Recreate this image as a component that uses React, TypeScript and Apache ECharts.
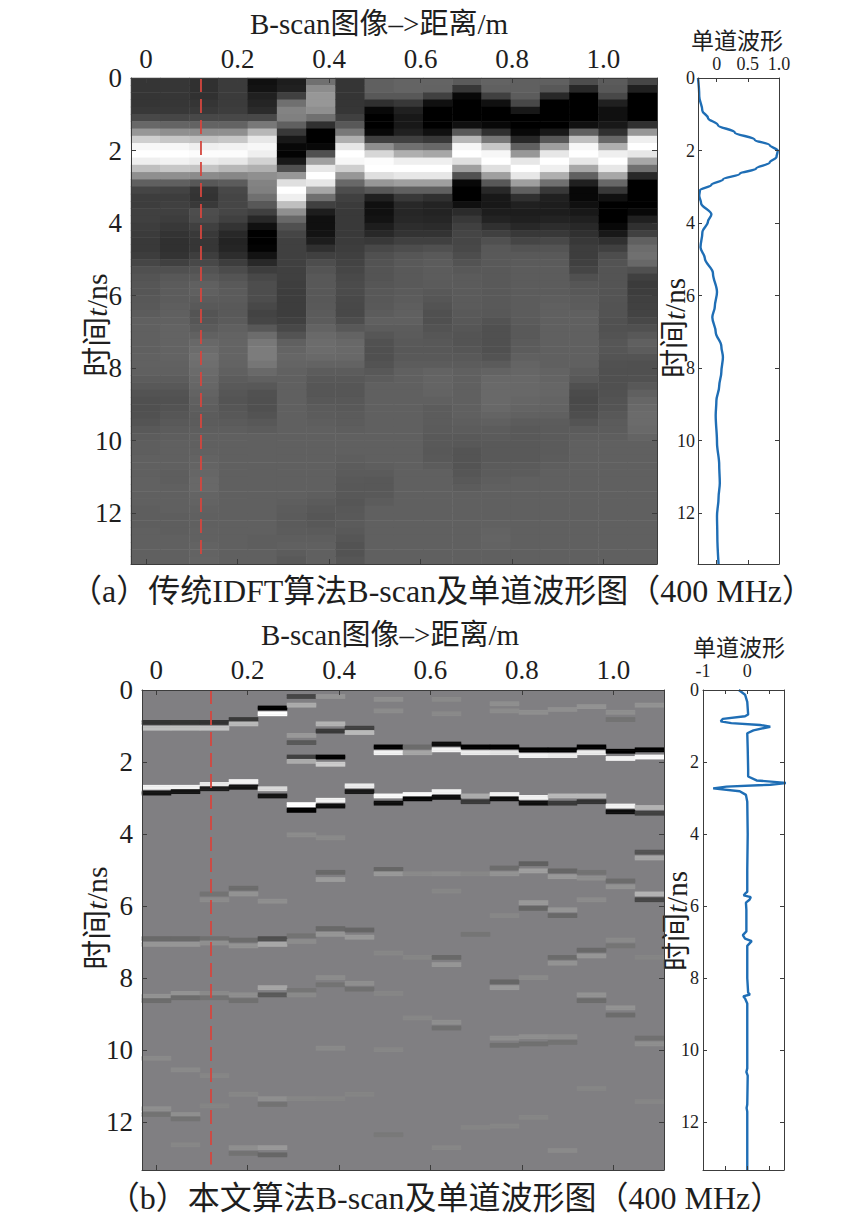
import React, { useEffect, useRef } from "react";
import * as echarts from "echarts";

const W = 857;
const H = 1232;

const SERIF = '"Liberation Serif", "Noto Sans CJK SC", serif';
const TEXT = "#1e1e1e";
const FRAME = "#3c3c3c";
const RED = "#d4473f";
const BLUE = "#1f6eb5";

// ---------- Panel (a): conventional IDFT B-scan, 18 traces x 67 bins of 0.2 ns ----------
const binA = 0.2;
const tMaxA = 13.4;
const colsA: number[][] = [
  [-0.27,-0.27,-0.27,-0.27,-0.25,-0.15,0.05,0.35,0.7,0.95, 1.0,0.9,0.6,0.3,0.0,-0.17,-0.22,-0.22,-0.2,-0.2, -0.22,-0.23,-0.24,-0.24,-0.22,-0.16,-0.1,-0.07,-0.06,-0.06, -0.05,-0.04,-0.02,0,0,0,0,0,0.01,0.01, 0,-0.02,-0.05,-0.08,-0.1,-0.1,-0.09,-0.07,-0.04,-0.02, -0.01,-0.01,0,0,0,0.01,0.01,0,0,-0.01, -0.01,-0.01,0,0,0,0,0],
  [-0.26,-0.26,-0.26,-0.26,-0.25,-0.16,0.03,0.3,0.65,0.95, 1.0,0.92,0.65,0.3,0.0,-0.18,-0.22,-0.2,-0.2,-0.22, -0.25,-0.28,-0.3,-0.3,-0.28,-0.2,-0.1,-0.05,-0.03,-0.02, -0.02,-0.01,0,0.01,0.02,0.02,0.02,0.02,0.02,0.01, 0,-0.02,-0.05,-0.08,-0.09,-0.08,-0.06,-0.04,-0.02,-0.01, 0,0,0,0,-0.01,-0.01,0,0,0,0, -0.01,-0.01,-0.01,0,0,0,0],
  [-0.3,-0.3,-0.29,-0.27,-0.24,-0.15,0.02,0.29,0.61,0.9, 0.98,0.88,0.63,0.27,-0.05,-0.27,-0.28,-0.24,-0.12,-0.13, -0.2,-0.24,-0.26,-0.26,-0.21,-0.15,-0.08,-0.04,0,0.0, -0.02,-0.04,-0.07,-0.06,-0.03,0.01,0.05,0.08,0.1,0.09, 0.07,0.05,0.04,0.02,0,-0.01,-0.02,-0.02,-0.01,0, 0,0.01,0.02,0.03,0.04,0.05,0.05,0.03,0.02,0.01, 0,0,0.01,0.01,0.02,0.02,0.03],
  [-0.23,-0.23,-0.23,-0.23,-0.22,-0.15,0.02,0.3,0.65,0.92, 0.98,0.85,0.55,0.25,-0.02,-0.15,-0.17,-0.16,-0.16,-0.2, -0.28,-0.35,-0.38,-0.37,-0.32,-0.22,-0.13,-0.07,-0.04,-0.03, -0.03,-0.04,-0.04,-0.03,0,0.02,0.03,0.03,0.03,0.02, 0,-0.02,-0.04,-0.06,-0.07,-0.06,-0.05,-0.03,-0.01,0, 0,0,0,0,0,0,0,0,0,0, 0,0,0,0,0,0,0],
  [-0.5,-0.48,-0.4,-0.37,-0.33,-0.15,0.15,0.55,0.85,0.95, 0.9,0.72,0.5,0.3,0.22,0.2,0.1,-0.05,-0.2,-0.35, -0.5,-0.6,-0.62,-0.58,-0.48,-0.35,-0.22,-0.15,-0.12,-0.12, -0.12,-0.15,-0.18,-0.16,-0.05,0.08,0.15,0.18,0.18,0.14, 0.06,0,-0.05,-0.09,-0.1,-0.1,-0.08,-0.05,-0.02,0, 0,0,0,0,0,0,0,0,0,0, 0,0,0,-0.01,-0.01,0,0],
  [-0.42,-0.4,-0.2,0.1,0.22,0.2,0.0,-0.25,-0.45,-0.55, -0.58,-0.45,-0.1,0.35,0.8,1.0,0.9,0.6,0.3,0.05, -0.1,-0.17,-0.2,-0.2,-0.2,-0.2,-0.2,-0.2,-0.21,-0.22, -0.22,-0.22,-0.22,-0.2,-0.15,-0.08,0,0.03,0.04,0.03, 0.01,0,0,0,0,0,0,0,0,0, 0,0,0,0,0,0,0,0,-0.01,-0.02, -0.03,-0.03,-0.02,-0.01,0,-0.02,-0.04],
  [0.1,0.28,0.35,0.35,0.3,0.1,-0.3,-0.6,-0.7,-0.55, -0.1,0.4,0.85,1.0,0.85,0.45,0.1,-0.2,-0.42,-0.5, -0.5,-0.48,-0.42,-0.3,-0.2,-0.12,-0.07,-0.05,-0.05,-0.05, -0.05,-0.04,-0.03,-0.02,0.02,0.06,0.08,0.08,0.06,0.02, -0.02,-0.05,-0.06,-0.06,-0.05,-0.03,-0.02,-0.01,0,0, 0,0,0,0,0,0,0,-0.01,-0.03,-0.05, -0.06,-0.05,-0.03,-0.01,0,0,0],
  [-0.27,-0.27,-0.27,-0.27,-0.26,-0.2,-0.05,0.15,0.5,0.85, 1.0,0.95,0.7,0.35,0.05,-0.12,-0.2,-0.23,-0.24,-0.24, -0.24,-0.24,-0.23,-0.22,-0.2,-0.18,-0.16,-0.14,-0.13,-0.13, -0.14,-0.15,-0.15,-0.12,-0.05,0.02,0.05,0.06,0.05,0.02, -0.02,-0.05,-0.06,-0.06,-0.05,-0.04,-0.03,-0.02,-0.01,0, 0,0,-0.01,-0.02,-0.03,-0.04,-0.05,-0.05,-0.06,-0.05, -0.04,-0.03,-0.04,-0.06,-0.08,-0.08,-0.06],
  [0.0,0.0,-0.05,-0.3,-0.55,-0.65,-0.65,-0.55,-0.2,0.3, 0.75,0.98,1.0,0.8,0.35,-0.05,-0.4,-0.5,-0.5,-0.48, -0.42,-0.35,-0.25,-0.15,-0.1,-0.08,-0.07,-0.07,-0.06,-0.05, -0.05,-0.04,-0.02,0,-0.02,-0.06,-0.09,-0.1,-0.1,-0.08, -0.05,-0.02,0,0,0,0,0,0,0,0, 0,0,0,-0.01,-0.03,-0.05,-0.05,-0.04,-0.02,0, 0,0,0,0,0,0,0],
  [0.03,0.03,-0.05,-0.25,-0.4,-0.45,-0.45,-0.4,-0.2,0.1, 0.5,0.9,1.0,0.85,0.4,0.0,-0.25,-0.35,-0.36,-0.35, -0.32,-0.28,-0.2,-0.12,-0.06,-0.04,-0.04,-0.04,-0.04,-0.03, -0.02,-0.01,0,0,-0.02,-0.03,-0.04,-0.05,-0.04,-0.02, 0,0,0,0,0,0,0,0,0,0, 0,0,0,0,0,0,0,0,0,0, 0,0,0,0,0,0,0],
  [0.03,0.02,-0.2,-0.5,-0.6,-0.62,-0.6,-0.5,-0.25,0.05, 0.45,0.9,1.0,0.85,0.4,0.0,-0.3,-0.38,-0.38,-0.36, -0.33,-0.28,-0.2,-0.1,-0.04,-0.02,-0.02,-0.02,-0.03,-0.05, -0.06,-0.08,-0.1,-0.1,-0.08,-0.06,-0.05,-0.05,-0.04,-0.02, 0.02,0.03,0.03,0.02,0,-0.02,-0.02,-0.02,-0.03,-0.04, -0.04,-0.05,-0.04,-0.02,0,0,0,0,0,0, 0,0,0,0,0,0,0],
  [-0.03,-0.25,-0.55,-0.7,-0.72,-0.7,-0.5,-0.05,0.55,0.95, 1.0,0.8,0.4,-0.1,-0.55,-0.68,-0.65,-0.5,-0.33,-0.25, -0.2,-0.17,-0.16,-0.15,-0.12,-0.08,-0.05,-0.03,-0.03,-0.03, -0.03,-0.03,-0.04,-0.05,-0.06,-0.07,-0.07,-0.06,-0.04,-0.02, 0,0,0,0,0,0,0,-0.01,-0.02,-0.04, -0.05,-0.07,-0.07,-0.07,-0.06,-0.04,-0.02,0,0,0, 0,0,0,0,0,0,0],
  [0.02,0.0,-0.2,-0.5,-0.62,-0.62,-0.55,-0.3,0.15,0.65, 0.95,1.0,0.8,0.4,-0.05,-0.35,-0.45,-0.45,-0.42,-0.38, -0.3,-0.2,-0.1,-0.05,-0.04,-0.04,-0.04,-0.04,-0.04,-0.04, -0.04,-0.04,-0.05,-0.08,-0.1,-0.1,-0.1,-0.1,-0.08,-0.03, 0.02,0.05,0.06,0.06,0.06,0.05,0.03,0,-0.02,-0.03, -0.04,-0.04,-0.04,-0.03,-0.02,-0.01,0,0,0,0, 0,0.01,0.02,0.03,0.02,0,0],
  [0.0,0.0,-0.02,-0.15,-0.45,-0.6,-0.62,-0.55,-0.35,0.0, 0.35,0.85,1.0,0.85,0.4,0.0,-0.3,-0.4,-0.42,-0.4, -0.35,-0.25,-0.17,-0.08,-0.04,-0.03,-0.02,-0.02,-0.02,-0.02, -0.02,-0.02,-0.02,-0.03,-0.04,-0.04,-0.03,-0.02,0,0.03, 0.04,0.05,0.05,0.05,0.04,0.03,0.01,-0.02,-0.04,-0.04, -0.04,-0.04,-0.04,-0.03,-0.02,0,0,0,0,0, 0,0,0,0,0,0,0],
  [0.0,-0.05,-0.35,-0.6,-0.65,-0.65,-0.6,-0.45,-0.05,0.4, 0.85,1.0,0.9,0.5,0.1,-0.25,-0.4,-0.42,-0.42,-0.38, -0.32,-0.25,-0.15,-0.07,-0.04,-0.03,-0.02,-0.02,-0.02,-0.02, -0.01,0,0,0,0,0,0,0,0,0, 0.02,0.03,0.04,0.04,0.03,0.02,0,-0.02,-0.03,-0.03, -0.03,-0.03,-0.02,-0.01,0,0,0,0,0,0, 0,0,0,0,0,0,0],
  [-0.12,-0.35,-0.6,-0.7,-0.72,-0.7,-0.5,0.0,0.6,0.95, 1.0,0.85,0.45,0.0,-0.4,-0.55,-0.55,-0.5,-0.45,-0.4, -0.35,-0.3,-0.25,-0.22,-0.22,-0.2,-0.17,-0.1,-0.06,-0.05, -0.03,-0.02,0,0,0,0,0,0,0,0, -0.02,-0.05,-0.1,-0.13,-0.14,-0.13,-0.11,-0.07,-0.03,-0.01, 0,0,0,0,0,0,0,0,0,0, 0,0,0,0,0,0,0],
  [-0.03,-0.05,-0.15,-0.4,-0.5,-0.5,-0.45,-0.3,0.05,0.5, 0.9,1.0,0.85,0.45,0.05,-0.25,-0.5,-0.6,-0.62,-0.6, -0.55,-0.45,-0.3,-0.2,-0.12,-0.08,-0.07,-0.07,-0.07,-0.07, -0.07,-0.08,-0.08,-0.09,-0.09,-0.08,-0.06,-0.06,-0.07,-0.09, -0.1,-0.1,-0.1,-0.09,-0.08,-0.07,-0.05,-0.03,-0.02,-0.01, 0,0,0,0,0,0,0,0,0,0, 0,0,0,0,0,0,0],
  [-0.16,-0.4,-0.65,-0.72,-0.72,-0.65,-0.3,0.35,0.9,1.0, 0.85,0.45,0.1,-0.35,-0.65,-0.72,-0.7,-0.62,-0.55,-0.4, -0.3,-0.2,0.0,0.08,0.1,0.05,-0.1,-0.2,-0.23,-0.22, -0.2,-0.19,-0.18,-0.15,-0.1,-0.05,0,-0.02,-0.07,-0.1, -0.1,-0.09,-0.05,0,0.04,0.06,0.07,0.07,0.06,0.03, 0,0,0,0,0,0,0,0,0,0, 0,0,0,0,0,0,0],
];

// single trace under the red line, panel (a)
const traceA_t = [0, 0.5, 0.9, 1.1, 1.3, 1.5, 1.7, 1.85, 2.0, 2.18, 2.33, 2.5, 2.64, 2.8, 2.94, 3.1, 3.25, 3.45, 3.76, 3.96, 4.26, 4.67, 4.97, 5.38, 5.9, 6.3, 6.6, 7.0, 7.4, 7.7, 8.1, 8.5, 8.9, 9.3, 10.05, 10.66, 11.17, 11.57, 12.08, 12.6, 13.4];
const traceA_v = [-0.3, -0.28, -0.23, -0.14, 0.02, 0.29, 0.61, 0.85, 0.98, 0.96, 0.85, 0.63, 0.37, 0.1, -0.085, -0.27, -0.28, -0.25, -0.085, -0.14, -0.23, -0.26, -0.19, -0.06, 0.005, -0.03, -0.07, -0.016, 0.075, 0.1, 0.075, 0.04, -0.005, -0.016, 0.005, 0.04, 0.05, 0.03, 0.005, 0.01, 0.03];

// ---------- Panel (b): proposed algorithm, sparse reflections [trace, time ns, amplitude] ----------
const binB = 0.04;
const tMaxB = 13.32;
const eventsB: [number, number, number][] = [
  [0,0.88,-0.6],[0,1.04,0.5],[0,2.68,0.9],[0,2.83,-0.85],[0,6.87,-0.18],[0,7.04,0.18],[0,8.46,0.15],[0,8.62,-0.15],[0,10.2,0.08],[0,11.58,0.12],[0,11.77,-0.1],
  [1,0.88,-0.6],[1,1.04,0.5],[1,2.66,0.9],[1,2.81,-0.85],[1,6.87,-0.18],[1,7.04,0.18],[1,8.38,0.15],[1,8.53,-0.15],[1,10.5,0.08],[1,11.74,0.12],[1,11.88,-0.1],[1,12.6,0.06],
  [2,0.88,-0.6],[2,1.02,0.52],[2,2.58,0.83],[2,2.73,-0.78],[2,5.65,-0.1],[2,5.79,0.1],[2,6.86,-0.12],[2,7.0,0.12],[2,8.4,0.08],[2,8.53,-0.1],[2,10.67,0.05],[2,11.5,0.04],
  [3,0.79,-0.55],[3,0.93,0.45],[3,2.5,0.9],[3,2.69,-0.85],[3,5.46,-0.15],[3,5.62,0.15],[3,6.9,-0.15],[3,7.07,0.15],[3,8.42,0.12],[3,8.58,-0.12],[3,11.2,0.06],[3,12.67,0.12],[3,12.84,-0.1],
  [4,0.46,-1],[4,0.65,1],[4,2.73,0.7],[4,2.9,-0.85],[4,5.83,0.12],[4,6.86,-0.38],[4,7.04,0.32],[4,8.23,0.3],[4,8.42,-0.3],[4,11.3,0.12],[4,11.46,-0.1],[4,12.67,0.2],[4,12.86,-0.2],
  [5,0.17,-0.45],[5,0.39,0.35],[5,1.25,0.2],[5,1.44,-0.3],[5,1.83,-0.5],[5,1.96,0.35],[5,3.15,1],[5,3.31,-1],[5,4.0,0.1],[5,6.8,-0.1],[5,6.97,0.1],[5,8.3,-0.08],[5,8.44,0.08],[5,11.3,0.05],
  [6,0.14,0.15],[6,0.93,0.4],[6,1.11,-0.55],[6,1.83,-1],[6,2.02,0.6],[6,3.03,0.9],[6,3.2,-0.9],[6,4.1,0.08],[6,5.04,-0.18],[6,5.23,0.22],[6,6.6,-0.18],[6,6.76,0.18],[6,7.97,0.1],[6,8.16,-0.1],[6,9.93,0.08],[6,11.3,0.04],
  [7,1.02,-0.5],[7,1.18,0.45],[7,2.62,0.85],[7,2.78,-0.8],[7,6.62,-0.2],[7,6.84,0.2],[7,8.1,0.12],[7,8.27,-0.12],[7,11.2,0.04],
  [8,0.23,0.12],[8,0.54,0.1],[8,1.57,-1],[8,1.73,0.9],[8,2.93,0.95],[8,3.1,-0.9],[8,4.95,-0.2],[8,5.09,0.2],[8,7.27,0.06],[8,8.4,0.05],[8,9.97,0.06],[8,12.3,-0.05],
  [9,1.57,-0.15],[9,1.71,0.3],[9,2.87,0.95],[9,2.98,-0.95],[9,5.07,0.08],[9,7.4,0.05],[9,9.09,0.06],
  [10,0.23,0.08],[10,0.65,0.08],[10,1.48,-0.9],[10,1.65,0.9],[10,2.78,0.9],[10,2.96,-0.9],[10,5.07,0.1],[10,5.55,0.06],[10,7.4,-0.18],[10,7.58,0.18],[10,9.2,0.12],[10,9.37,-0.12],[10,12.67,0.06],
  [11,1.57,-1],[11,1.71,0.85],[11,2.92,0.35],[11,3.07,-0.55],[11,5.07,0.06],[11,6.76,-0.08],[11,12.1,0.04],
  [12,0.35,0.12],[12,0.54,0.1],[12,1.57,-1],[12,1.71,0.8],[12,2.87,0.9],[12,3.0,-0.9],[12,4.9,-0.15],[12,5.07,0.15],[12,6.25,0.06],[12,8.08,-0.2],[12,8.23,0.2],[12,9.65,0.12],[12,9.83,-0.12],[12,12.07,0.05],
  [13,0.6,0.12],[13,1.62,-1],[13,1.78,0.9],[13,2.94,0.9],[13,3.1,-0.9],[13,4.81,-0.25],[13,4.98,0.25],[13,5.86,0.2],[13,6.05,-0.2],[13,7.97,0.08],[13,9.6,0.12],[13,9.79,-0.12],[13,11.85,0.05],
  [14,0.51,0.12],[14,1.62,-1],[14,1.78,0.85],[14,2.92,0.45],[14,3.1,-0.55],[14,5.0,-0.2],[14,5.16,0.2],[14,6.07,0.18],[14,6.25,-0.18],[14,7.4,-0.15],[14,7.56,0.15],[14,9.6,0.1],[14,9.75,-0.1],[14,12.76,0.08],
  [15,0.42,0.15],[15,1.56,-1],[15,1.71,0.85],[15,2.92,0.45],[15,3.07,-0.6],[15,5.04,-0.1],[15,5.2,0.12],[15,5.81,0.1],[15,7.18,-0.18],[15,7.35,0.18],[15,8.42,0.15],[15,8.59,-0.15],[15,11.04,0.05],
  [16,0.6,0.12],[16,0.79,-0.1],[16,1.69,-1],[16,1.87,0.9],[16,3.2,0.9],[16,3.35,-0.9],[16,5.27,-0.15],[16,5.44,0.15],[16,6.9,0.08],[16,7.06,-0.08],[16,8.81,0.15],[16,9.0,-0.15],
  [17,0.39,0.15],[17,1.65,-1],[17,1.83,0.95],[17,3.24,0.4],[17,3.39,-0.5],[17,4.48,-0.35],[17,4.65,0.3],[17,5.65,0.4],[17,5.81,-0.45],[17,7.4,0.04],[17,9.63,-0.12],[17,9.79,0.12],[17,11.4,0.05],
];

// single trace under the red line, panel (b)
const traceB_t = [0, 0.13, 0.33, 0.68, 0.73, 0.8, 0.87, 0.92, 0.97, 1.02, 1.12, 1.2, 1.62, 2.2, 2.4, 2.51, 2.58, 2.63, 2.68, 2.73, 2.81, 2.91, 3.1, 4.0, 5.0, 5.6, 5.65, 5.7, 5.75, 5.82, 5.9, 6.1, 6.7, 6.8, 6.9, 6.97, 7.1, 8.0, 8.4, 8.45, 8.5, 8.56, 8.7, 10.5, 10.6, 10.7, 11.5, 11.6, 11.7, 13.32];
const traceB_v = [-0.19, -0.05, 0, 0.02, -0.05, -0.55, -0.6, -0.36, 0.29, 0.52, 0.14, 0.0, 0.01, 0.02, 0.02, 0.21, 0.9, 0.52, -0.47, -0.77, -0.17, -0.03, 0, 0.01, 0.0, 0.0, -0.05, -0.08, 0.08, 0.05, -0.03, -0.02, -0.02, -0.1, -0.05, 0.1, 0.0, 0.0, 0.02, 0.06, -0.09, -0.05, 0.0, 0.0, -0.02, 0.01, 0.0, -0.015, 0.0, 0.0];

const distTicks = [0, 0.2, 0.4, 0.6, 0.8, 1.0];
const timeTicks = [0, 2, 4, 6, 8, 10, 12];
const redLineX = 0.12;

const nTraces = 18;
const nRowsA = colsA[0].length;
const nRowsB = Math.round(tMaxB / binB);

function fmtDist(v: number) {
  return v === 0 ? "0" : v.toFixed(1);
}

function valueAxis(o: {
  grid: number;
  pos: "top" | "bottom" | "left" | "right";
  min: number;
  max: number;
  ticks: number[];
  labels?: number[];
  fmt?: (v: number) => string;
  size?: number;
  margin?: number;
  inverse?: boolean;
  tickLen?: number;
}) {
  return {
    type: "value",
    gridIndex: o.grid,
    position: o.pos,
    min: o.min,
    max: o.max,
    inverse: !!o.inverse,
    z: 10,
    axisLine: { show: true, onZero: false, lineStyle: { color: FRAME, width: 1 } },
    axisTick: { show: true, inside: true, length: o.tickLen ?? 5, customValues: o.ticks, lineStyle: { color: FRAME, width: 1 } },
    axisLabel: o.labels
      ? {
          show: true,
          customValues: o.labels,
          formatter: (v: number) => (o.fmt ? o.fmt(v) : String(v)),
          fontFamily: SERIF,
          fontSize: o.size ?? 26,
          color: TEXT,
          margin: o.margin ?? 8,
        }
      : { show: false },
    splitLine: { show: false },
    axisPointer: { show: false },
  };
}

function catAxis(grid: number, n: number, inverse = false) {
  return {
    type: "category",
    gridIndex: grid,
    data: Array.from({ length: n }, (_, i) => String(i)),
    show: false,
    inverse,
  };
}

function textEl(text: string, x: number, y: number, size: number, rotate = 0) {
  return {
    type: "text",
    x,
    y,
    rotation: rotate,
    silent: true,
    style: {
      text,
      fontSize: size,
      fontFamily: SERIF,
      fill: TEXT,
      align: "center",
      verticalAlign: "middle",
      rich: {
        i: { fontStyle: "italic", fontSize: size, fontFamily: SERIF, fill: TEXT },
      },
    },
  };
}

export default function App() {
  const ref = useRef<HTMLDivElement>(null);

  useEffect(() => {
    if (!ref.current) return;
    const chart = echarts.init(ref.current, undefined, { renderer: "svg" });

    const heatA: number[][] = [];
    colsA.forEach((col, c) => col.forEach((v, k) => heatA.push([c, k, v])));

    const heatB: number[][] = [];
    eventsB.forEach(([c, t, v]) => {
      const r = Math.round(t / binB);
      [r - 1, r, r + 1].forEach((rr) => {
        if (rr >= 0 && rr < nRowsB) heatB.push([c, rr, v]);
      });
    });

    // pixel rectangles
    const gA = { left: 131, top: 78, width: 526, height: 486 };
    const wA = { left: 698, top: 78, width: 81, height: 486 };
    const gB = { left: 142, top: 690, width: 522, height: 480 };
    const wB = { left: 703, top: 690, width: 81, height: 480 };

    const xMinA = -0.033, xMaxA = 1.117;
    const xMinB = -0.031, xMaxB = 1.111;

    const option: any = {
      animation: false,
      backgroundColor: "#ffffff",
      grid: [
        { ...gA, show: false },
        { ...gA, show: false },
        { ...wA, show: false },
        { ...gB, show: true, backgroundColor: "#807f82", borderWidth: 0 },
        { ...gB, show: false },
        { ...wB, show: false },
      ],
      xAxis: [
        catAxis(0, nTraces),
        valueAxis({ grid: 1, pos: "top", min: xMinA, max: xMaxA, ticks: distTicks, labels: distTicks, fmt: fmtDist, size: 27, margin: 6 }),
        valueAxis({ grid: 1, pos: "bottom", min: xMinA, max: xMaxA, ticks: distTicks }),
        valueAxis({ grid: 2, pos: "top", min: -0.3, max: 1.0, ticks: [0, 0.5, 1.0], labels: [0, 0.5, 1.0], fmt: (v) => (v === 0 ? "0" : v.toFixed(1)), size: 18, margin: 5, tickLen: 4 }),
        valueAxis({ grid: 2, pos: "bottom", min: -0.3, max: 1.0, ticks: [0, 0.5, 1.0], tickLen: 4 }),
        catAxis(3, nTraces),
        valueAxis({ grid: 4, pos: "top", min: xMinB, max: xMaxB, ticks: distTicks, labels: distTicks, fmt: fmtDist, size: 27, margin: 7 }),
        valueAxis({ grid: 4, pos: "bottom", min: xMinB, max: xMaxB, ticks: distTicks }),
        valueAxis({ grid: 5, pos: "top", min: -1, max: 0.83, ticks: [-0.5, 0, 0.5], labels: [-1, 0], fmt: (v) => String(v), size: 18, margin: 10, tickLen: 4 }),
        valueAxis({ grid: 5, pos: "bottom", min: -1, max: 0.83, ticks: [-0.5, 0, 0.5], tickLen: 4 }),
      ],
      yAxis: [
        catAxis(0, nRowsA, true),
        valueAxis({ grid: 1, pos: "left", min: 0, max: tMaxA, inverse: true, ticks: timeTicks, labels: timeTicks, size: 27, margin: 9 }),
        valueAxis({ grid: 1, pos: "right", min: 0, max: tMaxA, inverse: true, ticks: timeTicks }),
        valueAxis({ grid: 2, pos: "left", min: 0, max: tMaxA, inverse: true, ticks: timeTicks, labels: timeTicks, size: 18, margin: 3, tickLen: 4 }),
        valueAxis({ grid: 2, pos: "right", min: 0, max: tMaxA, inverse: true, ticks: timeTicks, tickLen: 4 }),
        catAxis(3, nRowsB, true),
        valueAxis({ grid: 4, pos: "left", min: 0, max: tMaxB, inverse: true, ticks: timeTicks, labels: timeTicks, size: 27, margin: 9 }),
        valueAxis({ grid: 4, pos: "right", min: 0, max: tMaxB, inverse: true, ticks: timeTicks }),
        valueAxis({ grid: 5, pos: "left", min: 0, max: tMaxB, inverse: true, ticks: timeTicks, labels: timeTicks, size: 18, margin: 4, tickLen: 4 }),
        valueAxis({ grid: 5, pos: "right", min: 0, max: tMaxB, inverse: true, ticks: timeTicks, tickLen: 4 }),
      ],
      visualMap: [
        { type: "continuous", show: false, seriesIndex: 0, dimension: 2, min: -0.6, max: 1.0, inRange: { color: ["#000000", "#ffffff"] } },
        { type: "continuous", show: false, seriesIndex: 3, dimension: 2, min: -1, max: 1, inRange: { color: ["#000000", "#ffffff"] } },
      ],
      series: [
        { type: "heatmap", xAxisIndex: 0, yAxisIndex: 0, data: heatA, silent: true, itemStyle: { borderWidth: 0 }, emphasis: { disabled: true }, progressive: 0, z: 2 },
        {
          type: "line", xAxisIndex: 1, yAxisIndex: 1, silent: true, symbol: "none", z: 6,
          data: [[redLineX, 0], [redLineX, tMaxA - 0.15]],
          lineStyle: { color: RED, width: 1.8, type: [14, 7] },
        },
        {
          type: "line", xAxisIndex: 3, yAxisIndex: 3, silent: true, symbol: "none", z: 6,
          smooth: 0.35, smoothMonotone: "y",
          data: traceA_t.map((t, i) => [traceA_v[i], t]),
          lineStyle: { color: BLUE, width: 2.4 },
        },
        { type: "heatmap", xAxisIndex: 5, yAxisIndex: 5, data: heatB, silent: true, itemStyle: { borderWidth: 0 }, emphasis: { disabled: true }, progressive: 0, z: 2 },
        {
          type: "line", xAxisIndex: 6, yAxisIndex: 6, silent: true, symbol: "none", z: 6,
          data: [[redLineX, 0], [redLineX, tMaxB - 0.15]],
          lineStyle: { color: RED, width: 1.8, type: [14, 7] },
        },
        {
          type: "line", xAxisIndex: 8, yAxisIndex: 8, silent: true, symbol: "none", z: 6,
          data: traceB_t.map((t, i) => [traceB_v[i], t]),
          lineStyle: { color: BLUE, width: 2.4 },
        },
      ],
      graphic: [
        textEl("B-scan图像–>距离/m", 379, 24, 29),
        textEl("B-scan图像–>距离/m", 390, 635, 29),
        textEl("单道波形", 737, 41, 23),
        textEl("单道波形", 739, 648, 23),
        textEl("时间{i|t}/ns", 96, 325, 30, Math.PI / 2),
        textEl("时间{i|t}/ns", 675, 328, 29, Math.PI / 2),
        textEl("时间{i|t}/ns", 96, 918, 30, Math.PI / 2),
        textEl("时间{i|t}/ns", 677, 921, 29, Math.PI / 2),
        textEl("（a）传统IDFT算法B-scan及单道波形图（400 MHz）", 442, 591, 32),
        textEl("（b）本文算法B-scan及单道波形图（400 MHz）", 445, 1198, 32),
      ],
    };

    chart.setOption(option);
    return () => chart.dispose();
  }, []);

  return (
    <div
      ref={ref}
      style={{ position: "fixed", left: 0, top: 0, width: W, height: H, background: "#fff" }}
    />
  );
}
